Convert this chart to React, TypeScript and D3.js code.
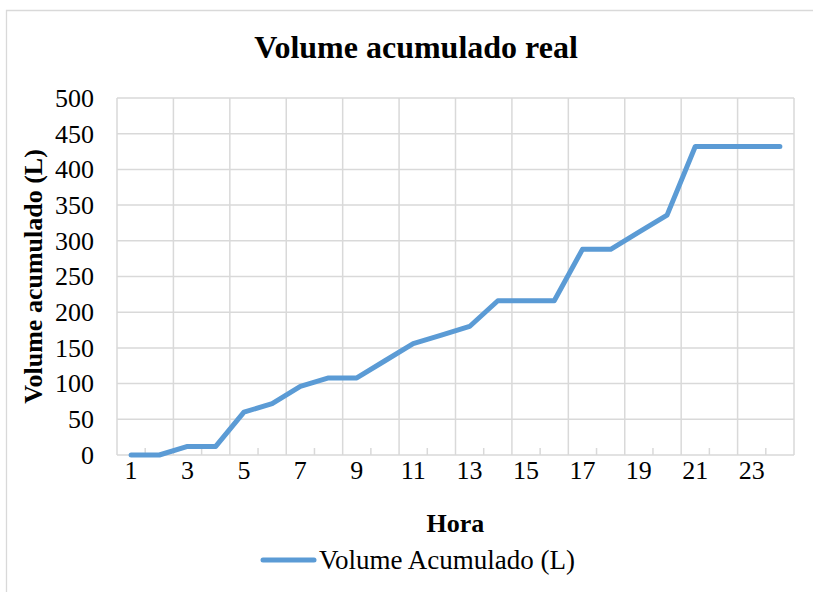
import React from "react";
import * as d3 from "d3";

const hours: number[] = Array.from({ length: 24 }, (_, i) => i + 1);
const volumes: number[] = [0, 0, 12, 12, 60, 72, 96, 108, 108, 132, 156, 168, 180, 216, 216, 216, 288, 288, 312, 336, 432, 432, 432, 432];
const yTicks: number[] = [0, 50, 100, 150, 200, 250, 300, 350, 400, 450, 500];
const xTickLabels: number[] = [1, 3, 5, 7, 9, 11, 13, 15, 17, 19, 21, 23];

const W = 813;
const H = 592;
const left = 117;
const right = 794;
const top = 98;
const bottom = 455;
const FONT = "'Liberation Serif', 'Times New Roman', serif";
const GRID = "#d9d9d9";

export default function App() {
  const x = d3.scaleBand<number>().domain(hours).range([left, right]);
  const y = d3.scaleLinear().domain([0, 500]).range([bottom, top]);
  const cx = (h: number) => (x(h) as number) + x.bandwidth() / 2;
  const line = d3
    .line<number>()
    .x((_, i) => cx(hours[i]))
    .y((v) => y(v));
  const boundaries = d3.range(0, hours.length + 1).map((i) => left + i * x.bandwidth());

  return (
    <svg width={W} height={H} style={{ position: "absolute", left: 0, top: 0 }} fontFamily={FONT}>
      <rect x={0} y={0} width={W} height={H} fill="#fff" />
      <path d={`M6.5,${H + 5} V10.5 H${W + 5}`} fill="none" stroke={GRID} strokeWidth={1.3} />
      <text x={416} y={58} textAnchor="middle" fontSize={32} fontWeight="bold" fill="#000">
        Volume acumulado real
      </text>
      {yTicks.map((t) => (
        <line key={"h" + t} x1={left} x2={right} y1={y(t)} y2={y(t)} stroke={GRID} strokeWidth={1.5} />
      ))}
      {boundaries.map((bx, i) =>
        i % 2 === 0 ? (
          <line key={"v" + i} x1={bx} x2={bx} y1={top} y2={bottom} stroke={GRID} strokeWidth={1.5} />
        ) : (
          <line key={"t" + i} x1={bx} x2={bx} y1={bottom - 7} y2={bottom} stroke={GRID} strokeWidth={1.5} />
        )
      )}
      {yTicks.map((t) => (
        <text key={"yl" + t} x={94} y={y(t)} dy="0.34em" textAnchor="end" fontSize={26} fill="#000">
          {t}
        </text>
      ))}
      {xTickLabels.map((h) => (
        <text key={"xl" + h} x={cx(h)} y={479} textAnchor="middle" fontSize={26} fill="#000">
          {h}
        </text>
      ))}
      <path
        d={line(volumes) || ""}
        fill="none"
        stroke="#5B9BD5"
        strokeWidth={5}
        strokeLinejoin="round"
        strokeLinecap="round"
      />
      <text x={(left + right) / 2} y={532} textAnchor="middle" fontSize={26} fontWeight="bold" fill="#000">
        Hora
      </text>
      <text
        transform={`translate(42,${(top + bottom) / 2}) rotate(-90)`}
        textAnchor="middle"
        fontSize={26}
        fontWeight="bold"
        fill="#000"
      >
        Volume acumulado (L)
      </text>
      <line x1={263} x2={314} y1={560} y2={560} stroke="#5B9BD5" strokeWidth={5} strokeLinecap="round" />
      <text x={319} y={569} fontSize={27} fill="#000">
        Volume Acumulado (L)
      </text>
    </svg>
  );
}
